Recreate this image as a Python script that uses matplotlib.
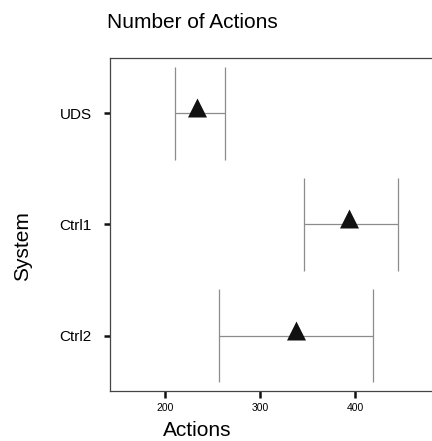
import matplotlib
matplotlib.use("Agg")
import matplotlib.pyplot as plt
import numpy as np

plt.rcParams['font.family'] = ['Liberation Sans', 'DejaVu Sans']

systems = ["Ctrl2", "Ctrl1", "UDS"]
means = [338, 394, 234]
lower = [257, 346, 210]
upper = [419, 445, 263]

fig = plt.figure(figsize=(4.32, 4.41), dpi=100)
ax = fig.add_axes([0.2546, 0.113, 0.7454, 0.756])

ypos = np.arange(1, len(systems) + 1)
cap_half = 0.42
err_col = '#8c8c8c'
ax.hlines(ypos, lower, upper, color=err_col, linewidth=0.9)
ax.vlines(lower, ypos - cap_half, ypos + cap_half, color=err_col, linewidth=0.9)
ax.vlines(upper, ypos - cap_half, ypos + cap_half, color=err_col, linewidth=0.9)
tri = [(-9.5, -4), (9.5, -4), (0, 15), (-9.5, -4)]
ax.scatter(means, ypos, marker=tri, s=467, color='#111111', linewidths=0, zorder=3)

ax.set_xlim(142, 481)
ax.set_ylim(0.5, 3.5)
ax.set_yticks(ypos)
ax.set_yticklabels(systems, fontsize=11)
ax.set_xticks([200, 300, 400])
ax.set_xticklabels(["200", "300", "400"], fontsize=7.5)

for s in ['left', 'bottom', 'top']:
    ax.spines[s].set_color('#444444')
    ax.spines[s].set_linewidth(0.9)
ax.spines['right'].set_visible(False)
ax.tick_params(axis='y', length=4, width=1.8, color='#111111', pad=9)
ax.tick_params(axis='x', length=5, width=1.8, color='#111111', pad=3.5)

ax.set_xlabel("Actions", fontsize=15, va='center')
ax.xaxis.set_label_coords(0.27, -0.117)
ax.set_ylabel("System", fontsize=15, va='center')
ax.yaxis.set_label_coords(-0.27, 0.435)
fig.text(0.247, 0.95, "Number of Actions", fontsize=15, ha='left', va='center')

fig.savefig("out.png", dpi=100)
